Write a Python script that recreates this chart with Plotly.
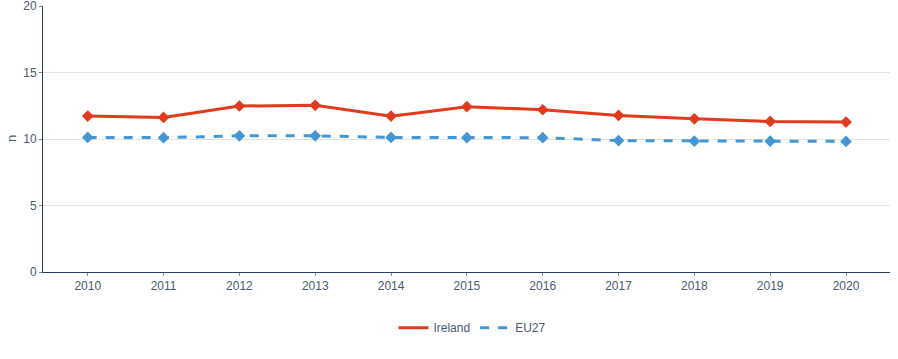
import plotly.graph_objects as go

years = [2010, 2011, 2012, 2013, 2014, 2015, 2016, 2017, 2018, 2019, 2020]
ireland = [11.72, 11.62, 12.48, 12.53, 11.72, 12.43, 12.2, 11.77, 11.52, 11.32, 11.27]
eu27 = [10.12, 10.1, 10.24, 10.24, 10.12, 10.1, 10.1, 9.88, 9.84, 9.84, 9.82]

font_col = "#4a5a70"
axis_col = "#2a3f5f"
tick_col = "#8a8a8a"
red = "#e23a1c"
blue = "#4597d3"
fig = go.Figure()
fig.add_trace(go.Scatter(x=years, y=ireland, name="Ireland", mode="lines+markers",
                         line=dict(color=red, width=3), showlegend=False, legendgroup="ie",
                         marker=dict(symbol="diamond", size=9, color=red)))
fig.add_trace(go.Scatter(x=years, y=eu27, name="EU27", mode="lines+markers",
                         line=dict(color=blue, width=3, dash="dash"), showlegend=False, legendgroup="eu",
                         marker=dict(symbol="diamond", size=9, color=blue)))
# legend entries (lines only, as in the reference)
fig.add_trace(go.Scatter(x=[None], y=[None], name="Ireland", mode="lines", legendgroup="ie",
                         line=dict(color=red, width=3)))
fig.add_trace(go.Scatter(x=[None], y=[None], name="EU27", mode="lines", legendgroup="eu",
                         line=dict(color=blue, width=3, dash="dash")))

fig.update_layout(
    width=898, height=359,
    margin=dict(l=43, r=8, t=6, b=87),
    plot_bgcolor="white", paper_bgcolor="white",
    font=dict(family="Arial, Liberation Sans, sans-serif", size=12, color=font_col),
    showlegend=True,
    legend=dict(orientation="h", x=0.507, xanchor="center", y=-0.155, yanchor="top",
                font=dict(size=12, color=font_col)),
    xaxis=dict(range=[2009.41, 2020.58], tickmode="array", tickvals=years,
               ticktext=[str(y) for y in years], showgrid=False, automargin=False,
               showline=True, linecolor=axis_col, linewidth=1,
               ticks="outside", ticklen=3, tickcolor=tick_col, zeroline=False,
               ticklabeloverflow="allow"),
    yaxis=dict(range=[0, 20], tickvals=[0, 5, 10, 15, 20], showgrid=True, automargin=False,
               gridcolor="#e2e2e2", gridwidth=1, showline=True, linecolor=axis_col,
               linewidth=1, ticks="outside", ticklen=3, tickcolor=tick_col,
               zeroline=False, ticklabeloverflow="allow"),
    annotations=[dict(text="n", xref="paper", yref="paper", x=0, y=0.5,
                      xanchor="center", yanchor="middle", xshift=-32, textangle=-90,
                      showarrow=False, font=dict(size=13, color=font_col))],
)
fig.write_html("out.html", config={"displayModeBar": False},
               post_script="document.body.style.margin='0';document.body.style.overflow='hidden';")
